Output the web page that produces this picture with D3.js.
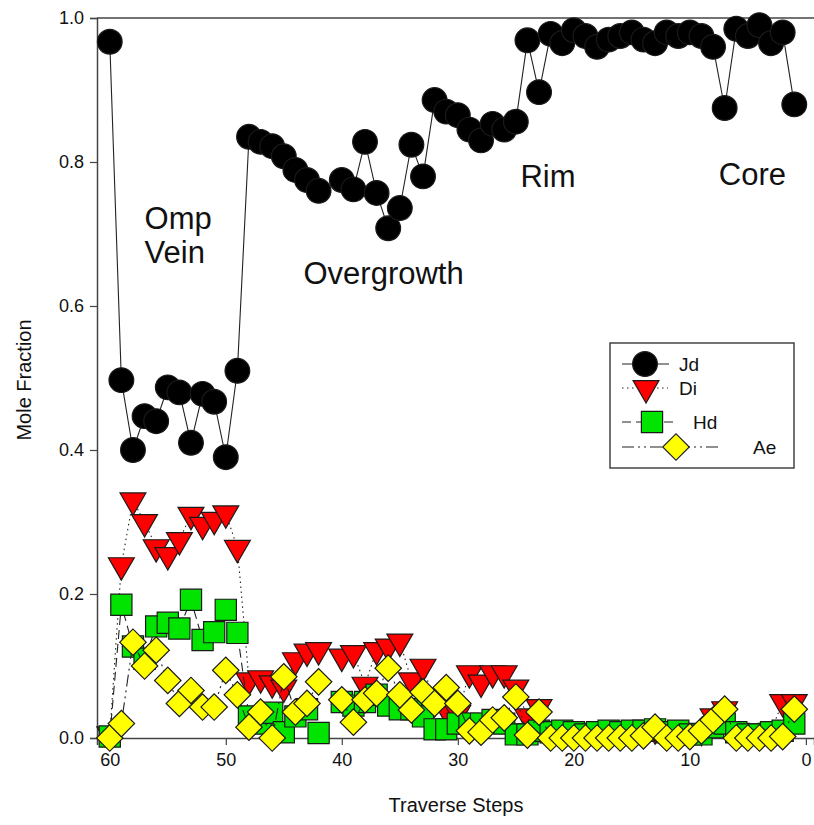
<!DOCTYPE html>
<html>
<head>
<meta charset="utf-8">
<script src="https://cdn.jsdelivr.net/npm/d3@7"></script>
<style>
  body { margin: 0; background: #fff; }
  text { font-family: "Liberation Sans", Arial, sans-serif; fill: #111; }
</style>
</head>
<body>
<div id="my_dataviz"></div>
<script>
var steps = [60, 59, 58, 57, 56, 55, 54, 53, 52, 51,
             50, 49, 48, 47, 46, 45, 44, 43, 42, 41,
             40, 39, 38, 37, 36, 35, 34, 33, 32, 31,
             30, 29, 28, 27, 26, 25, 24, 23, 22, 21,
             20, 19, 18, 17, 16, 15, 14, 13, 12, 11,
             10, 9, 8, 7, 6, 5, 4, 3, 2, 1];

var jd = [0.967, 0.497, 0.40, 0.447, 0.44, 0.487, 0.48, 0.41, 0.478, 0.467,
          0.39, 0.51, 0.835, 0.828, 0.822, 0.808, 0.789, 0.775, 0.76, null,
          0.775, 0.762, 0.828, 0.757, 0.708, 0.736, 0.824, 0.78, 0.886, 0.87,
          0.865, 0.845, 0.83, 0.853, 0.845, 0.856, 0.969, 0.897, 0.978, 0.965,
          0.983, 0.975, 0.96, 0.97, 0.975, 0.98, 0.97, 0.965, 0.98, 0.975,
          0.98, 0.975, 0.96, 0.875, 0.985, 0.975, 0.99, 0.965, 0.98, 0.88];

var di = [0.005, 0.24, 0.33, 0.30, 0.265, 0.254, 0.275, 0.31, 0.296, 0.303,
          0.312, 0.264, 0.08, 0.083, 0.076, 0.07, 0.108, 0.12, 0.122, null,
          0.113, 0.118, 0.074, 0.122, 0.127, 0.134, 0.08, 0.099, 0.05, 0.04,
          0.035, 0.09, 0.077, 0.09, 0.09, 0.07, 0.03, 0.043, 0.008, 0.008,
          0.008, 0.01, 0.008, 0.01, 0.008, 0.01, 0.01, 0.012, 0.008, 0.008,
          0.008, 0.01, 0.03, 0.04, 0.01, 0.008, 0.008, 0.01, 0.05, 0.05];

var hd = [0.002, 0.185, 0.127, 0.11, 0.155, 0.16, 0.152, 0.192, 0.136, 0.147,
          0.178, 0.146, 0.03, 0.02, 0.035, 0.008, 0.03, 0.04, 0.007, null,
          0.05, 0.045, 0.05, 0.06, 0.045, 0.04, 0.04, 0.03, 0.012, 0.012,
          0.02, 0.02, 0.02, 0.025, 0.02, 0.005, 0.005, 0.01, 0.008, 0.01,
          0.008, 0.005, 0.008, 0.01, 0.008, 0.01, 0.01, 0.012, 0.008, 0.01,
          0.005, 0.005, 0.015, 0.02, 0.008, 0.005, 0.005, 0.008, 0.01, 0.02];

var ae = [0.0, 0.02, 0.133, 0.10, 0.122, 0.08, 0.048, 0.066, 0.043, 0.043,
          0.094, 0.06, 0.015, 0.036, 0.0, 0.085, 0.036, 0.048, 0.078, null,
          0.053, 0.022, 0.053, 0.062, 0.097, 0.06, 0.039, 0.064, 0.048, 0.07,
          0.048, 0.01, 0.008, 0.025, 0.028, 0.057, 0.004, 0.036, 0.0, 0.0,
          0.0, 0.0, 0.0, 0.0, 0.0, 0.0, 0.003, 0.015, 0.0, 0.0,
          0.002, 0.01, 0.025, 0.04, 0.0, 0.0, 0.0, 0.0, 0.002, 0.04];

var xTicks = [60, 50, 40, 30, 20, 10, 0];
var yTicks = [0.0, 0.2, 0.4, 0.6, 0.8, 1.0];

var regions = [
  {label: ["Omp", "Vein"], step: 57.0, value: 0.707},
  {label: ["Overgrowth"], step: 43.3, value: 0.631},
  {label: ["Rim"], step: 24.6, value: 0.765},
  {label: ["Core"], step: 7.5, value: 0.768}
];

var width = 814, height = 825;
var plotLeft = 97, plotRight = 814, plotTop = 18, plotBottom = 738;

var svg = d3.select("#my_dataviz")
  .append("svg")
    .attr("width", width)
    .attr("height", height);

var x = d3.scaleLinear().domain([61.1, -0.7]).range([plotLeft, plotRight]);
var y = d3.scaleLinear().domain([0, 1]).range([plotBottom, plotTop]);

// axes
svg.append("g")
  .attr("transform", "translate(0," + plotBottom + ")")
  .call(d3.axisBottom(x).tickValues(xTicks).tickSize(7).tickPadding(8).tickFormat(d3.format("d")))
  .call(function(g) {
    g.select(".domain").attr("stroke", "#444").attr("stroke-width", 1.5);
    g.selectAll(".tick line").attr("stroke", "#444").attr("stroke-width", 1.2);
    g.selectAll(".tick text").style("font-size", "18px").style("font-family", "Liberation Sans, Arial, sans-serif").attr("fill", "#111");
  });

svg.append("g")
  .attr("transform", "translate(" + plotLeft + ",0)")
  .call(d3.axisLeft(y).tickValues(yTicks).tickSize(7).tickPadding(6).tickFormat(d3.format(".1f")))
  .call(function(g) {
    g.select(".domain").attr("stroke", "#444").attr("stroke-width", 1.5);
    g.selectAll(".tick line").attr("stroke", "#444").attr("stroke-width", 1.2);
    g.selectAll(".tick text").style("font-size", "18px").style("font-family", "Liberation Sans, Arial, sans-serif").attr("fill", "#111");
  });

// top frame line
svg.append("line")
  .attr("x1", plotLeft).attr("x2", plotRight)
  .attr("y1", y(1)).attr("y2", y(1))
  .attr("stroke", "#444")
  .attr("stroke-width", 1.5);

svg.append("text")
  .text("Traverse Steps")
  .attr("x", 456)
  .attr("y", 812)
  .attr("text-anchor", "middle")
  .style("font-size", "20px");

svg.append("text")
  .text("Mole Fraction")
  .attr("transform", "translate(31,380) rotate(-90)")
  .attr("text-anchor", "middle")
  .style("font-size", "20px");

// region labels
regions.forEach(function(r) {
  var t = svg.append("text")
    .attr("x", x(r.step))
    .attr("y", y(r.value))
    .style("font-size", "31px");
  r.label.forEach(function(line, i) {
    t.append("tspan")
      .attr("x", x(r.step))
      .attr("dy", i == 0 ? 0 : 34)
      .text(line);
  });
});

var circleSym = d3.symbol().type(d3.symbolCircle).size(480);
var triSym = d3.symbol().type(d3.symbolTriangle).size(290);
var squareSym = d3.symbol().type(d3.symbolSquare).size(450);
var diamondSym = d3.symbol().type(d3.symbolSquare).size(350);

var series = [
  {name: "Jd", values: jd, fill: "#000000", dash: null, sym: circleSym, rot: 0},
  {name: "Di", values: di, fill: "#ff0000", dash: "1.5,3.5", sym: triSym, rot: 180},
  {name: "Hd", values: hd, fill: "#00e400", dash: "9,5", sym: squareSym, rot: 0},
  {name: "Ae", values: ae, fill: "#ffff00", dash: "12,4,2,4,2,4", sym: diamondSym, rot: 45}
];

series.forEach(function(s) {
  var pts = steps.map(function(d, i) { return {step: d, value: s.values[i]}; });

  svg.append("path")
    .datum(pts)
    .attr("fill", "none")
    .attr("stroke", "#222")
    .attr("stroke-width", 1.1)
    .attr("stroke-dasharray", s.dash)
    .attr("d", d3.line()
      .defined(function(d) { return d.value != null; })
      .x(function(d) { return x(d.step); })
      .y(function(d) { return y(d.value); }));

  svg.append("g").selectAll("path")
    .data(pts.filter(function(d) { return d.value != null; }))
    .enter().append("path")
      .attr("d", s.sym)
      .attr("transform", function(d) {
        return "translate(" + x(d.step) + "," + y(d.value) + ") rotate(" + s.rot + ")";
      })
      .attr("fill", s.fill)
      .attr("stroke", "#1a1a1a")
      .attr("stroke-width", 1.2);
});

// legend
var legend = svg.append("g");
legend.append("rect")
  .attr("x", 610).attr("y", 343)
  .attr("width", 184).attr("height", 125)
  .attr("fill", "#fff")
  .attr("stroke", "#444")
  .attr("stroke-width", 1.5);

var legendRows = [
  {s: series[0], y: 364, x1: 622, x2: 669, mx: 645, tx: 679},
  {s: series[1], y: 388, x1: 622, x2: 668, mx: 646, tx: 679},
  {s: series[2], y: 422, x1: 622, x2: 673, mx: 652, tx: 693},
  {s: series[3], y: 447, x1: 622, x2: 722, mx: 676, tx: 753}
];

legendRows.forEach(function(r) {
  legend.append("line")
    .attr("x1", r.x1).attr("x2", r.x2)
    .attr("y1", r.y).attr("y2", r.y)
    .attr("stroke", "#222")
    .attr("stroke-width", 1.1)
    .attr("stroke-dasharray", r.s.dash);
  legend.append("path")
    .attr("d", r.s.sym)
    .attr("transform", "translate(" + r.mx + "," + r.y + ") rotate(" + r.s.rot + ")")
    .attr("fill", r.s.fill)
    .attr("stroke", "#1a1a1a")
    .attr("stroke-width", 1.2);
  legend.append("text")
    .text(r.s.name)
    .attr("x", r.tx)
    .attr("y", r.y + 7)
    .style("font-size", "19px");
});
</script>
</body>
</html>
